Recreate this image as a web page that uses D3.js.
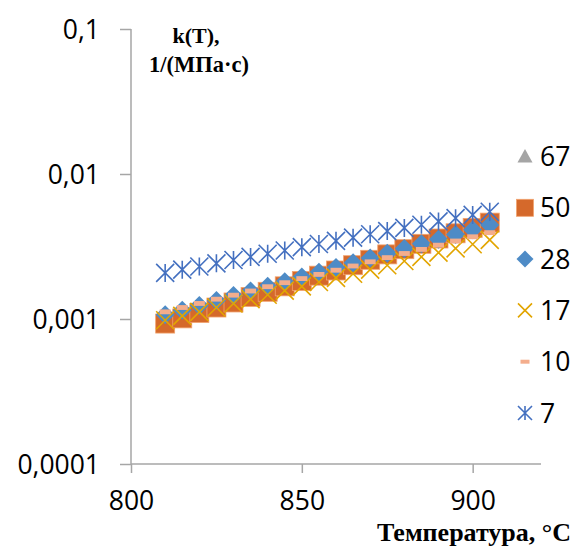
<!DOCTYPE html>
<html>
<head>
<meta charset="utf-8">
<script src="https://cdn.jsdelivr.net/npm/d3@7"></script>
<style>
  body { margin: 0; background: #fff; }
  .tick-label { font-family: "Open Sans", "Liberation Sans", sans-serif; font-size: 26.5px; fill: #000; }
  .title { font-family: "Liberation Serif", "Times New Roman", serif; font-weight: bold; fill: #000; }
</style>
</head>
<body>
<div id="chart"></div>
<script>
// temperatures, °C
const temps = [810, 815, 820, 825, 830, 835, 840, 845, 850, 855, 860, 865, 870, 875, 880, 885, 890, 895, 900, 905];

// k(T) values, one array per series
const k67 = [0.00090, 0.00098, 0.00107, 0.00116, 0.00126, 0.00138, 0.00150, 0.00163, 0.00177, 0.00193,
             0.00210, 0.00228, 0.00248, 0.00270, 0.00294, 0.00320, 0.00348, 0.00378, 0.00412, 0.00448];
const k50 = [0.00093, 0.00101, 0.00110, 0.00120, 0.00130, 0.00142, 0.00154, 0.00168, 0.00183, 0.00199,
             0.00216, 0.00235, 0.00256, 0.00279, 0.00303, 0.00330, 0.00359, 0.00390, 0.00425, 0.00462];
const k28 = [0.00107, 0.00115, 0.00124, 0.00134, 0.00145, 0.00156, 0.00168, 0.00181, 0.00195, 0.00210,
             0.00227, 0.00244, 0.00263, 0.00284, 0.00306, 0.00330, 0.00355, 0.00383, 0.00413, 0.00445];
const k17 = [0.00098, 0.00105, 0.00112, 0.00120, 0.00128, 0.00137, 0.00147, 0.00157, 0.00168, 0.00180,
             0.00192, 0.00205, 0.00219, 0.00235, 0.00251, 0.00268, 0.00287, 0.00307, 0.00328, 0.00351];
const k10 = [0.00112, 0.00120, 0.00128, 0.00137, 0.00146, 0.00156, 0.00167, 0.00178, 0.00190, 0.00203,
             0.00217, 0.00232, 0.00248, 0.00265, 0.00283, 0.00302, 0.00323, 0.00345, 0.00369, 0.00394];
const k7  = [0.00208, 0.00219, 0.00230, 0.00242, 0.00255, 0.00268, 0.00282, 0.00297, 0.00313, 0.00329,
             0.00346, 0.00364, 0.00384, 0.00404, 0.00425, 0.00447, 0.00471, 0.00496, 0.00522, 0.00549];

const seriesNames = ['67', '50', '28', '17', '10', '7'];
const xTicks = [800, 850, 900];
const yTicks = [0.0001, 0.001, 0.01, 0.1];
const yTickLabels = ['0,0001', '0,001', '0,01', '0,1'];

const series = [
  { name: '67', values: k67, marker: 'triangle', color: '#a5a5a5' },
  { name: '50', values: k50, marker: 'square', color: '#d5692b' },
  { name: '28', values: k28, marker: 'diamond', color: '#4e8bc6' },
  { name: '17', values: k17, marker: 'x', color: '#e2a500' },
  { name: '10', values: k10, marker: 'dash', color: '#f4ad8c' },
  { name: '7', values: k7, marker: 'star', color: '#4470c0' }
];

const width = 577;
const height = 546;

const x = d3.scaleLinear().domain([800, 920]).range([131, 541]);
const y = d3.scaleLog().domain([0.0001, 0.1]).range([464, 29]);

const svg = d3.select('#chart')
  .append('svg')
  .attr('width', width)
  .attr('height', height);

// axes
const axisColor = '#a6a6a6';
const yAxis = svg.append('g')
  .attr('transform', `translate(${x(800)},0)`)
  .call(d3.axisLeft(y).tickValues(yTicks).tickSize(11).tickFormat((d, i) => yTickLabels[i]));
yAxis.select('.domain').attr('stroke', axisColor).attr('stroke-width', 1.5).attr('d', `M0,${y(0.1)}V${y(0.0001)}`);
yAxis.selectAll('.tick line').attr('stroke', axisColor).attr('stroke-width', 1.5);
yAxis.selectAll('.tick text').attr('class', 'tick-label').attr('x', -31).attr('dy', '0.36em');

const xAxis = svg.append('g')
  .attr('transform', `translate(0,${y(0.0001)})`)
  .call(d3.axisBottom(x).tickValues(xTicks).tickSize(9));
xAxis.select('.domain').attr('stroke', axisColor).attr('stroke-width', 1.5).attr('d', `M${x(800)},0H${x(920)}`);
xAxis.selectAll('.tick line').attr('stroke', axisColor).attr('stroke-width', 1.5);
xAxis.selectAll('.tick text').attr('class', 'tick-label').attr('y', 46).attr('dy', 0);

// marker drawing
function drawMarker(g, type, color, s) {
  const h = s / 2;
  if (type === 'triangle') {
    g.append('path').attr('d', `M0,${-h}L${h},${h * 0.8}L${-h},${h * 0.8}Z`).attr('fill', color);
  } else if (type === 'square') {
    g.append('rect').attr('x', -h).attr('y', -h).attr('width', s).attr('height', s)
      .attr('fill', color).attr('stroke', '#f2a36e').attr('stroke-width', 0.8);
  } else if (type === 'diamond') {
    g.append('path').attr('d', `M0,${-h}L${h},0L0,${h}L${-h},0Z`).attr('fill', color);
  } else if (type === 'x') {
    g.append('path').attr('d', `M${-h},${-h}L${h},${h}M${-h},${h}L${h},${-h}`)
      .attr('stroke', color).attr('stroke-width', 1.6).attr('fill', 'none');
  } else if (type === 'dash') {
    g.append('rect').attr('x', -h).attr('y', -s * 0.22).attr('width', s).attr('height', s * 0.44).attr('fill', color);
  } else if (type === 'star') {
    g.append('path').attr('d', `M${-h},${-h}L${h},${h}M${-h},${h}L${h},${-h}M0,${-h}V${h}`)
      .attr('stroke', color).attr('stroke-width', 1.6).attr('fill', 'none');
  }
}

const plotSize = { triangle: 16, square: 19, diamond: 19, x: 18, dash: 11, star: 18 };
const legendSize = { triangle: 15, square: 17, diamond: 17, x: 14, dash: 9, star: 14 };

series.forEach((s) => {
  const g = svg.append('g');
  s.values.forEach((v, i) => {
    const m = g.append('g').attr('transform', `translate(${x(temps[i])},${y(v)})`);
    drawMarker(m, s.marker, s.color, plotSize[s.marker]);
  });
});

// legend
const legend = svg.append('g');
series.forEach((s, i) => {
  const ly = 156.5 + i * 51.3;
  const m = legend.append('g').attr('transform', `translate(525,${ly})`);
  drawMarker(m, s.marker, s.color, legendSize[s.marker]);
  legend.append('text').attr('class', 'tick-label').attr('x', 540).attr('y', ly).attr('dy', '0.36em').text(seriesNames[i]);
});

// titles
svg.append('text').attr('class', 'title').attr('x', 196).attr('y', 43).attr('text-anchor', 'middle')
  .style('font-size', '22px').text('k(T),');
svg.append('text').attr('class', 'title').attr('x', 199).attr('y', 72).attr('text-anchor', 'middle')
  .style('font-size', '22.5px').text('1/(МПа·с)');
svg.append('text').attr('class', 'title').attr('x', 571).attr('y', 541).attr('text-anchor', 'end')
  .style('font-size', '26px').text('Температура, °С');
</script>
</body>
</html>
